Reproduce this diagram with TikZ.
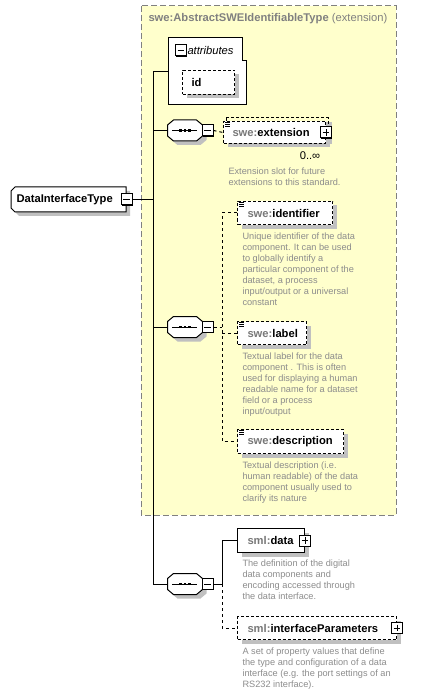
\documentclass[tikz,border=0pt]{standalone}
\usepackage{fontspec}
\setmainfont{Liberation Sans}
\usetikzlibrary{positioning,shadows}
\definecolor{bgyellow}{RGB}{255,255,204}
\definecolor{framegrey}{RGB}{128,128,128}
\definecolor{prefixgrey}{RGB}{120,120,120}
\definecolor{descgrey}{RGB}{140,140,140}
\definecolor{shadowgrey}{RGB}{192,192,192}
\newcommand{\listmark}[1]{%
  \foreach \k in {1,2.5,4}
    \draw[line width=0.5pt,solid] ([xshift=1.5pt,yshift=-\k pt]#1.north west) -- ++(4pt,0);}
\newcommand{\seqshape}[1]{%
  \draw[fill=white,shade] ([shift={(0,5)}]#1.north west) -- ([shift={(6,0)}]#1.north west)
    -- ([shift={(-6,0)}]#1.north east) -- ([shift={(0,5)}]#1.north east)
    -- ([shift={(0,-5)}]#1.south east) -- ([shift={(-6,0)}]#1.south east)
    -- ([shift={(6,0)}]#1.south west) -- ([shift={(0,-5)}]#1.south west) -- cycle;
  \draw ([shift={(-13,0)}]#1.center) -- ([shift={(12,0)}]#1.center);
  \foreach \d in {-4.5,0,4.5}
    \fill ([shift={(\d-1.2,-1.4)}]#1.center) rectangle ([shift={(\d+1.2,1.4)}]#1.center);}
\begin{document}
\begin{tikzpicture}[x=0.75pt,y=-0.75pt,line width=0.75pt,
  shade/.style={drop shadow={shadow xshift=3pt,shadow yshift=-3pt,fill=shadowgrey,opacity=1}},
  elem/.style={draw,fill=white,shade,anchor=north west,align=left,inner ysep=0pt,
    font=\fontsize{8.4}{10}\selectfont\bfseries},
  opt/.style={elem,dash pattern=on 2.25pt off 1.5pt},
  link/.style={dash pattern=on 2.25pt off 2.25pt},
  desc/.style={anchor=north west,align=left,inner sep=0pt,text=descgrey,
    font=\fontsize{6.9}{8.25}\selectfont},
  seq/.style={minimum width=25.5pt,minimum height=15pt,inner sep=0pt},
  tog/.style={draw,fill=white,solid,minimum size=8.25pt,inner sep=0pt,
    drop shadow={shadow xshift=0.6pt,shadow yshift=-0.6pt,fill=black,opacity=1}},
  minus/.style={tog,path picture={
    \draw ([xshift=1.6pt]path picture bounding box.west) -- ([xshift=-1.6pt]path picture bounding box.east);}},
  plus/.style={tog,path picture={
    \draw ([xshift=1.6pt]path picture bounding box.west) -- ([xshift=-1.6pt]path picture bounding box.east);
    \draw ([yshift=-1.6pt]path picture bounding box.north) -- ([yshift=1.6pt]path picture bounding box.south);}}]
\useasboundingbox (0,0) rectangle (438,695);

\draw[draw=framegrey,fill=bgyellow,dash pattern=on 4.5pt off 2.25pt] (141,6) rectangle (396,515);
\node[anchor=west,inner sep=0pt,text=framegrey,font=\fontsize{8.4}{10}\selectfont] (title) at (148,19)
  {\textbf{swe:AbstractSWEIdentifiableType} (extension)};

\draw[fill=white] (168,38) -- (242,38) -- (242,61) -- (246,61) -- (246,105) -- (168,105) -- cycle;
\node[minus] (ma) at (181,50.5) {};
\node[anchor=west,inner sep=0pt,font=\fontsize{8.4}{10}\selectfont\itshape] (attr) at (187,50.5) {attributes};
\coordinate (attrw) at (168,72);
\node[opt,text width=25.5pt,inner xsep=6.75pt,minimum height=18pt] (id) at (182,70) {id};

\draw[fill=white,shade] (15,187) -- (126,187) -- (126,212) -- (15,212) -- (11,208) -- (11,191) -- cycle;
\node[anchor=west,inner sep=0pt,font=\fontsize{8.4}{10}\selectfont\bfseries] (dit) at (16,199.5) {DataInterfaceType};
\node[minus] (m0) at (126.5,199.5) {};

\coordinate (tbot) at (153,584);
\coordinate (jx) at (222,0);

\node[seq] (seq1) at (185,130.5) {};
\seqshape{seq1}
\node[minus] (m1) at (207.5,130.5) {};
\draw[opt,fill=none,shade/.style={}] (226,118) rectangle (328,140);
\node[opt,text width=63pt,inner xsep=6.75pt,minimum height=16.5pt] (ext) at (223,121)
  {\textcolor{prefixgrey}{swe:}extension};
\listmark{ext}
\node[plus] (p1) at (ext.east) {};
\node[inner sep=0pt,font=\fontsize{8.4}{10}\selectfont] (occ) at (310,156) {0..∞};
\node[desc] (extd) at (228,167.5) {Extension slot for future\\extensions to this standard.};

\node[seq] (seq2) at (185,327) {};
\seqshape{seq2}
\node[minus] (m2) at (207.5,327) {};
\node[opt,text width=56.25pt,inner xsep=7.5pt,minimum height=17.25pt] (ident) at (237,201)
  {\textcolor{prefixgrey}{swe:}identifier};
\listmark{ident}
\node[desc] (identd) at (242,232.5) {Unique identifier of the data\\component. It can be used\\to globally identify a\\particular component of the\\dataset, a process\\input/output or a universal\\constant};
\node[opt,text width=36.75pt,inner xsep=7.5pt,minimum height=17.25pt] (label) at (237,321)
  {\textcolor{prefixgrey}{swe:}label};
\listmark{label}
\node[desc] (labeld) at (242,352.5) {Textual label for the data\\component . This is often\\used for displaying a human\\readable name for a dataset\\field or a process\\input/output};
\node[opt,text width=64.5pt,inner xsep=7.5pt,minimum height=18pt] (descr) at (237,429)
  {\textcolor{prefixgrey}{swe:}description};
\listmark{descr}
\node[desc] (descrd) at (242,461.5) {Textual description (i.e.\\human readable) of the data\\component usually used to\\clarify its nature};

\node[seq] (seq3) at (185,584) {};
\seqshape{seq3}
\node[minus] (m3) at (207.5,584) {};
\node[elem,text width=35.25pt,inner xsep=7.5pt,minimum height=18pt] (data) at (237,528)
  {\textcolor{prefixgrey}{sml:}data};
\node[plus] (p2) at (data.east) {};
\node[desc] (datad) at (242,559.5) {The definition of the digital\\data components and\\encoding accessed through\\the data interface.};
\node[opt,text width=104.25pt,inner xsep=7.5pt,minimum height=17.25pt] (params) at (237,616)
  {\textcolor{prefixgrey}{sml:}interfaceParameters};
\node[plus] (p3) at (params.east) {};
\node[desc] (paramsd) at (242,647.5) {A set of property values that define\\the type and configuration of a data\\interface (e.g. the port settings of an\\RS232 interface).};

\draw (attrw) -| (tbot) -- (seq3.west);
\draw (m0.east) -- (m0.east -| tbot);
\draw (seq1.west) -- (seq1.west -| tbot);
\draw (seq2.west) -- (seq2.west -| tbot);
\draw[link] (m1.east) -- (ext.west);
\draw[link] (m2.east) -- (m2.east -| jx);
\draw[link] (ident.west) -| (descr.west -| jx) -- (descr.west);
\draw[link] (label.west) -- (label.west -| jx);
\draw (m3.east) -- (m3.east -| jx);
\draw (data.west) -| (m3.east -| jx);
\draw[link] (m3.east -| jx) |- (params.west);
\end{tikzpicture}
\end{document}
